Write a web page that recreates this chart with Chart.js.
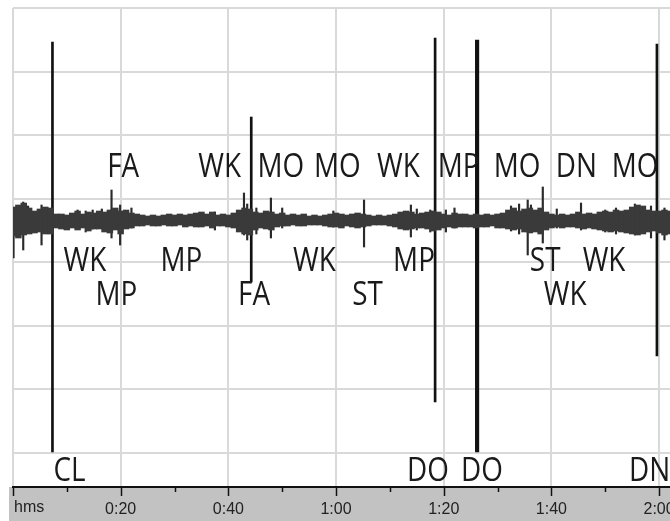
<!DOCTYPE html>
<html>
<head>
<meta charset="utf-8">
<script src="https://cdn.jsdelivr.net/npm/chart.js@4/dist/chart.umd.min.js"></script>
<style>
  body { margin: 0; background: #fff; }
  #wrap { width: 670px; height: 521px; overflow: hidden; position: relative; }
  canvas { display: block; }
</style>
</head>
<body>
<div id="wrap"><canvas id="trace" width="700" height="521"></canvas></div>
<script>
// ===============================
// data
// ===============================
// envelope of the trace, one bin per second (0..122 s), px above / below baseline
const upper = [13, 15, 17, 12, 9, 11, 13, 12, 6, 6, 5, 7, 9, 6, 8, 7, 9, 8, 10, 12,
  9, 10, 7, 6, 5, 4, 5, 4, 5, 6, 5, 6, 5, 6, 7, 8, 6, 8, 5, 6,
  5, 7, 10, 12, 11, 8, 7, 9, 8, 6, 7, 5, 6, 5, 6, 4, 5, 4, 5, 6,
  7, 6, 5, 6, 7, 6, 5, 4, 5, 4, 5, 6, 8, 9, 8, 6, 7, 8, 9, 8,
  6, 5, 7, 6, 6, 5, 6, 5, 6, 5, 6, 7, 10, 12, 9, 11, 12, 10, 12, 8,
  6, 5, 6, 5, 6, 8, 6, 7, 6, 8, 9, 8, 10, 9, 10, 13, 15, 14, 10, 9,
  9, 10, 9];
const lower = [16, 18, 15, 14, 13, 12, 14, 14, 8, 9, 10, 8, 10, 8, 11, 9, 9, 12, 13, 10,
  14, 9, 8, 6, 6, 5, 6, 6, 5, 6, 6, 5, 7, 6, 7, 7, 6, 8, 6, 6,
  7, 8, 12, 14, 15, 10, 8, 9, 10, 7, 6, 6, 5, 6, 6, 5, 5, 5, 6, 7,
  7, 8, 6, 7, 8, 7, 6, 5, 5, 5, 6, 7, 9, 10, 9, 8, 8, 9, 11, 10,
  8, 7, 8, 7, 7, 7, 8, 7, 7, 6, 8, 8, 9, 10, 9, 12, 13, 12, 14, 10,
  8, 7, 8, 7, 7, 8, 9, 8, 9, 10, 11, 12, 11, 12, 13, 14, 15, 14, 12, 11,
  13, 15, 14];

// short artefact spikes: time (s), reach up, reach down (px)
const spikeTimes = [0.1, 1.9, 2.8, 5.3, 12, 13.5, 14.8, 16.5, 18.3, 19.9, 22, 37.5,
  42.9, 43.5, 45.2, 47.9, 50, 59.5, 65.2, 73.9, 75, 77.5, 80.4, 82,
  92.5, 94, 95.6, 96.2, 98.4, 101, 105.5, 110, 112, 115.5, 118.5, 121];
const spikeUp = [12, 18, 14, 15, 10, 9, 10, 11, 30, 15, 12, 8,
  27, 16, 12, 22, 12, 9, 20, 15, 11, 10, 10, 12,
  14, 16, 20, 15, 33, 11, 17, 10, 12, 16, 14, 12];
const spikeDown = [38, 30, 12, 25, 6, 12, 9, 8, 18, 25, 8, 10,
  15, 20, 14, 18, 8, 7, 27, 17, 10, 12, 12, 8,
  11, 14, 35, 10, 23, 8, 10, 12, 14, 15, 18, 20];

// long event markers: time (s), top, bottom
const eventTimes = [7.33, 44.25, 78.4, 119.6];
const eventTop = [178, 103, 182, 176];
const eventBottom = [-232, -62, -182, -136];
const thickTime = [86.2];
const thickTop = [180];
const thickBottom = [-232];

// annotations
const noteText = ["FA", "WK", "MO", "MO", "WK", "MP", "MO", "DN", "MO",
  "WK", "MP", "WK", "MP", "ST", "WK",
  "MP", "FA", "ST", "WK",
  "CL", "DO", "DO", "DN"];
const noteTime = [17.5, 34.4, 45.4, 55.9, 67.6, 78.9, 89.3, 100.8, 111.2,
  9.4, 27.4, 52.0, 70.6, 96.0, 105.8,
  15.3, 41.8, 63.0, 98.6,
  7.5, 73.2, 83.2, 114.4];
const noteLevel = [43, 43, 43, 43, 43, 43, 43, 43, 43,
  -51, -51, -51, -51, -51, -51,
  -85, -85, -85, -85,
  -261, -261, -261, -261];

// axis
const majorTicks = [0, 20, 40, 60, 80, 100, 120];
const minorTicks = [10, 30, 50, 70, 90, 110];
const gridY = [-232.5, -169, -105.5, -42, 21.5, 85, 148.5, 212];

function hms(v) {
    const m = Math.floor(v / 60), s = v % 60;
    return m + ":" + (s < 10 ? "0" : "") + s;
}

// ===============================
// plugins
// ===============================
const axisBand = {
    id: "axisBand",
    beforeDraw(chart) {
        const { ctx, chartArea } = chart;
        ctx.save();
        ctx.fillStyle = "#c2c2c2";
        ctx.fillRect(9, chartArea.bottom, chart.width, chart.height - chartArea.bottom);
        ctx.restore();
    },
    afterDraw(chart) {
        const { ctx, chartArea } = chart;
        const x = chart.scales.x;
        ctx.save();
        ctx.strokeStyle = "#111";
        ctx.lineWidth = 1.5;
        majorTicks.forEach(t => {
            const px = Math.round(x.getPixelForValue(t)) + 0.5;
            ctx.beginPath(); ctx.moveTo(px, chartArea.bottom); ctx.lineTo(px, chartArea.bottom + 9); ctx.stroke();
        });
        minorTicks.forEach(t => {
            const px = Math.round(x.getPixelForValue(t)) + 0.5;
            ctx.beginPath(); ctx.moveTo(px, chartArea.bottom); ctx.lineTo(px, chartArea.bottom + 5); ctx.stroke();
        });
        ctx.fillStyle = "#222";
        ctx.font = "16px 'Liberation Sans'";
        ctx.textBaseline = "middle";
        ctx.fillText("hms", x.getPixelForValue(0) + 1, 508);
        ctx.restore();
    }
};

const notes = {
    id: "notes",
    afterDatasetsDraw(chart) {
        const { ctx } = chart;
        const x = chart.scales.x, y = chart.scales.y;
        ctx.save();
        ctx.fillStyle = "#1a1a1a";
        ctx.font = "32px 'Open Sans'";
        ctx.textBaseline = "alphabetic";
        noteText.forEach((txt, i) => {
            ctx.save();
            ctx.translate(x.getPixelForValue(noteTime[i]), y.getPixelForValue(noteLevel[i]));
            ctx.scale(0.87, 1);
            ctx.fillText(txt, 0, 0);
            ctx.restore();
        });
        ctx.restore();
    }
};

// ===============================
// chart
// ===============================
new Chart(document.getElementById("trace"), {
    type: "bar",
    data: {
        datasets: [
            {
                data: upper.map((u, i) => ({ x: i, y: [-lower[i], u] })),
                backgroundColor: "#3a3a3a",
                barThickness: 5.8,
                grouped: false
            },
            {
                data: spikeTimes.map((t, i) => ({ x: t, y: [-spikeDown[i], spikeUp[i]] })),
                backgroundColor: "#2a2a2a",
                barThickness: 1.5,
                grouped: false
            },
            {
                data: eventTimes.map((t, i) => ({ x: t, y: [eventBottom[i], eventTop[i]] })),
                backgroundColor: "#111",
                barThickness: 2,
                grouped: false
            },
            {
                data: thickTime.map((t, i) => ({ x: t, y: [thickBottom[i], thickTop[i]] })),
                backgroundColor: "#111",
                barThickness: 3.5,
                grouped: false
            }
        ]
    },
    options: {
        responsive: false,
        animation: false,
        layout: { padding: { left: 12, top: 8, right: 0, bottom: 0 } },
        plugins: { legend: { display: false }, tooltip: { enabled: false } },
        scales: {
            x: {
                type: "linear",
                min: 0,
                max: 127.6,
                offset: false,
                grid: { offset: false, color: "#d9d9d9", lineWidth: 2, drawTicks: false },
                border: { color: "#111", width: 2 },
                ticks: {
                    stepSize: 20,
                    includeBounds: false,
                    maxRotation: 0,
                    padding: 13,
                    color: "#222",
                    font: { family: "'Liberation Sans'", size: 16 },
                    callback: v => (v === 0 ? "" : hms(v))
                },
                afterFit: s => { s.height = 34; }
            },
            y: {
                min: -267,
                max: 212,
                grid: { color: "#d9d9d9", lineWidth: 2, drawTicks: false },
                border: { display: false },
                ticks: { display: false },
                afterBuildTicks: s => { s.ticks = gridY.map(v => ({ value: v })); },
                afterFit: s => { s.width = 0; }
            }
        }
    },
    plugins: [axisBand, notes]
});
</script>
</body>
</html>
